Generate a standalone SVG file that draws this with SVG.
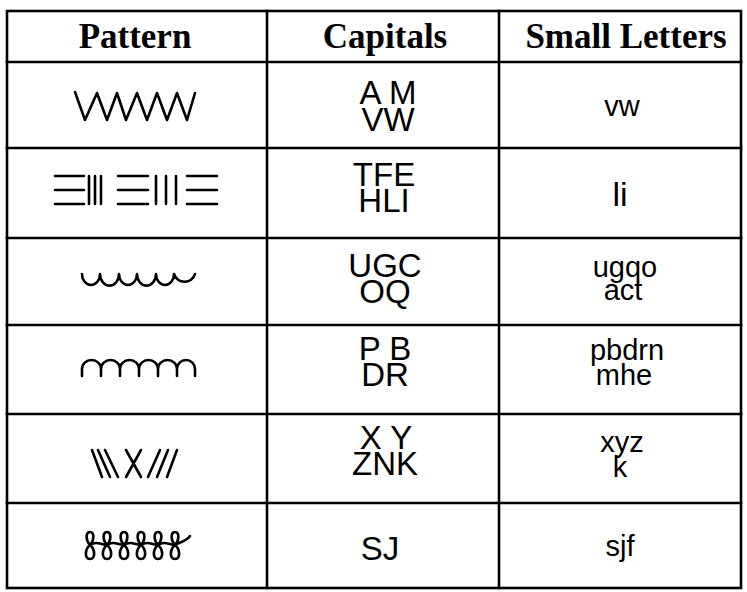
<svg xmlns="http://www.w3.org/2000/svg" width="747" height="592" viewBox="0 0 747 592">
<style>
.grid{stroke:#000;stroke-width:2.6;fill:none;stroke-linecap:square}
.hd{font-family:"Liberation Serif",serif;font-weight:bold;font-size:35px;fill:#000;text-anchor:middle}
.cap{font-family:"Liberation Sans",sans-serif;font-size:33px;fill:#000;text-anchor:middle}
.sm{font-family:"Liberation Sans",sans-serif;font-size:29px;fill:#000;text-anchor:middle}
.pt{stroke:#000;stroke-width:2.6;fill:none;stroke-linecap:round;stroke-linejoin:round}
</style>
<rect width="747" height="592" fill="#fff"/>
<g id="table-grid" class="grid">
<rect x="7" y="11" width="734" height="577"/>
<line x1="267" y1="11" x2="267" y2="588"/>
<line x1="499" y1="11" x2="499" y2="588"/>
<line x1="7" y1="62" x2="741" y2="62"/>
<line x1="7" y1="148" x2="741" y2="148"/>
<line x1="7" y1="238" x2="741" y2="238"/>
<line x1="7" y1="325" x2="741" y2="325"/>
<line x1="7" y1="414" x2="741" y2="414"/>
<line x1="7" y1="503" x2="741" y2="503"/>
</g>
<g id="header">
<text class="hd" x="135" y="48">Pattern</text>
<text class="hd" x="385" y="48">Capitals</text>
<text class="hd" x="626" y="48">Small Letters</text>
</g>
<g id="row1">
<path class="pt" d="M75,92 L85,120 L97,93 L107,120 L117,93 L126,120 L137,93 L147,120 L157,93 L167,120 L177,93 L187,120 L195,93"/>
<text class="cap" x="388" y="104"><tspan x="388">A M</tspan><tspan x="388" dy="27">VW</tspan></text>
<text class="sm" x="622" y="116">vw</text>
</g>
<g id="row2">
<path class="pt" d="M55,176 H84 M55,190 H84 M55,204 H84 M89,176 V204 M95,176 V204 M101,176 V204 M118,176 H148 M118,190 H148 M118,204 H148 M156,176 V204 M166,176 V204 M176,176 V204 M187,176 H217 M187,190 H217 M187,204 H217"/>
<text class="cap" x="384" y="186"><tspan x="384">TFE</tspan><tspan x="384" dy="26">HLI</tspan></text>
<text class="sm" x="620" y="206" style="font-size:34px">li</text>
</g>
<g id="row3">
<path class="pt" d="M82,274 a9,11 0 0 0 18,0 a9,11 0 0 0 19,0 a9,11 0 0 0 18,0 a9,11 0 0 0 19,0 a9,11 0 0 0 18,0 a11,11 0 0 0 21,0"/>
<text class="cap" x="385" y="277"><tspan x="385">UGC</tspan><tspan x="385" dy="26">OQ</tspan></text>
<text class="sm" x="625" y="277"><tspan x="625">ugqo</tspan><tspan x="623" dy="23">act</tspan></text>
</g>
<g id="row4">
<path class="pt" d="M82,376 V369 A9.5,9 0 0 1 101,369 V376 M101,369 A9.5,9 0 0 1 120,369 V376 M120,369 A9.5,9 0 0 1 139,369 V376 M139,369 A9.5,9 0 0 1 158,369 V376 M158,369 A9.5,9 0 0 1 177,369 V376 M177,369 A9,9 0 0 1 195,369 V376"/>
<text class="cap" x="385" y="360"><tspan x="385">P B</tspan><tspan x="385" dy="26">DR</tspan></text>
<text class="sm" x="627" y="360"><tspan x="627">pbdrn</tspan><tspan x="624" dy="25">mhe</tspan></text>
</g>
<g id="row5">
<path class="pt" d="M92,450 L102,477 M98,450 L110,477 M105,450 L118,477 M126,450 L141,477 M141,450 L126,477 M160,450 L148,477 M168,450 L157,477 M177,450 L167,477"/>
<text class="cap" x="386" y="449"><tspan x="386">X Y</tspan><tspan x="385" dy="26">ZNK</tspan></text>
<text class="sm" x="622" y="452"><tspan x="622">xyz</tspan><tspan x="620" dy="25">k</tspan></text>
</g>
<g id="row6">
<path class="pt" d="M90,545 C94,541 95,532 90,532 C85,532 86,541 90,545 C95,549 96,559 90,559 C84,559 85,549 90,545 C96,541 100,544 107,545 C111,541 112,532 107,532 C102,532 103,541 107,545 C112,549 113,559 107,559 C101,559 102,549 107,545 C113,541 117,544 124,545 C128,541 129,532 124,532 C119,532 120,541 124,545 C129,549 130,559 124,559 C118,559 119,549 124,545 C130,541 134,544 141,545 C145,541 146,532 141,532 C136,532 137,541 141,545 C146,549 147,559 141,559 C135,559 136,549 141,545 C147,541 151,544 158,545 C162,541 163,532 158,532 C153,532 154,541 158,545 C163,549 164,559 158,559 C152,559 153,549 158,545 C164,541 168,544 175,545 C179,541 180,532 175,532 C170,532 171,541 175,545 C180,549 181,559 175,559 C169,559 170,549 175,545 C181,541 186,542 190,536"/>
<text class="cap" x="380" y="560">SJ</text>
<text class="sm" x="620" y="556">sjf</text>
</g>
</svg>
